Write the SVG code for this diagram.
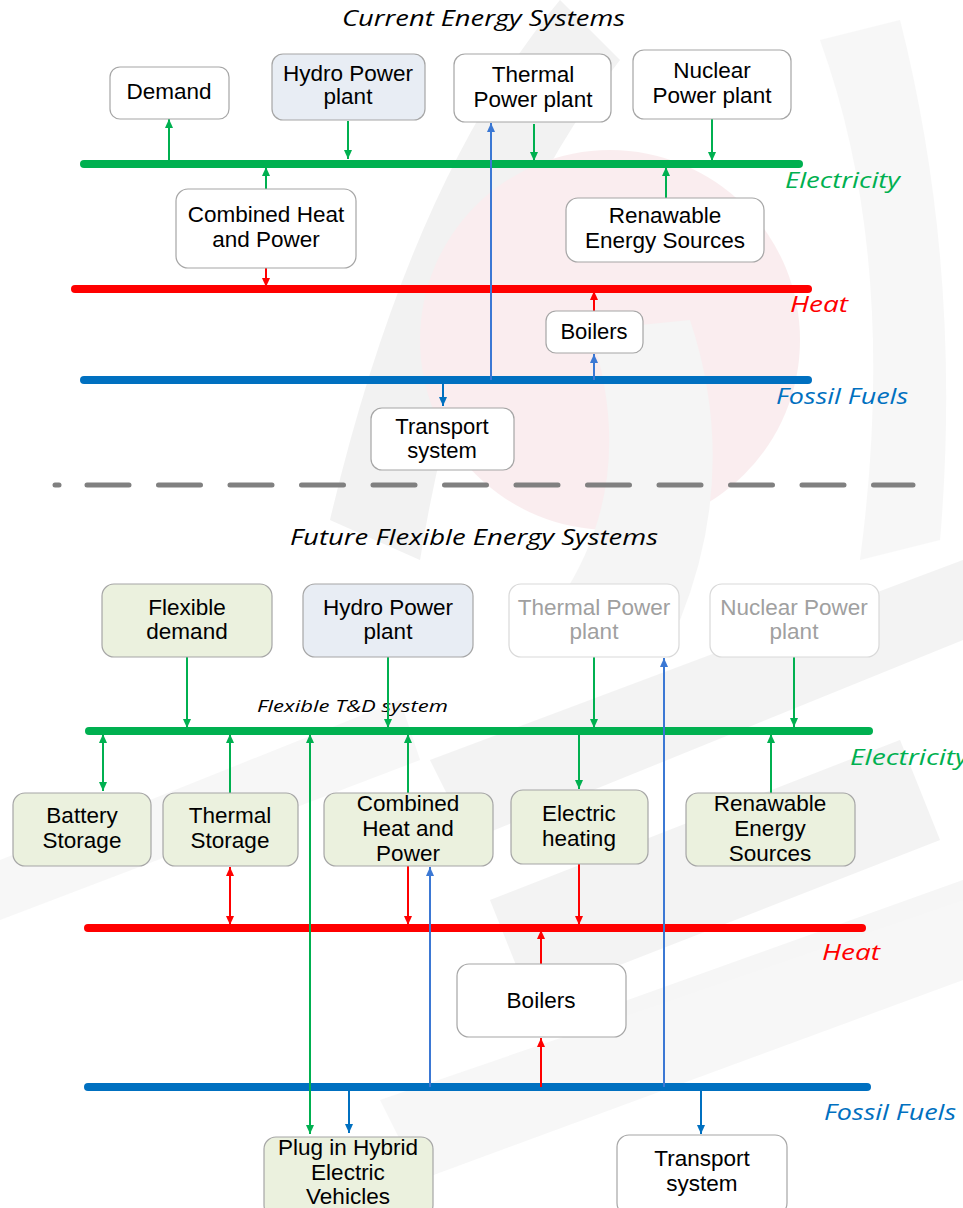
<svg xmlns="http://www.w3.org/2000/svg" width="963" height="1208" viewBox="0 0 963 1208">
<style>
.box{stroke:#a6a6a6;stroke-width:1.2;fill:#ffffff}
.gbox{stroke:#a6a6a6;stroke-width:1.2;fill:#ebf1de}
.hbox{stroke:#a6a6a6;stroke-width:1.2;fill:#e8edf4}
.fbox{stroke:#d9d9d9;stroke-width:1.2;fill:#ffffff}
.t{font-family:"Liberation Sans",Arial,sans-serif;font-size:22px;fill:#000;text-anchor:middle}
.tb{font-family:"Liberation Sans",Arial,sans-serif;font-size:22.5px;fill:#000;text-anchor:middle}
.tf{fill:#a0a0a0}
.it{font-family:"Open Sans","DejaVu Sans",sans-serif;font-style:italic}
.bar{stroke-width:8;stroke-linecap:round;fill:none}
.g{stroke:#00b050;stroke-width:2;fill:none}
.r{stroke:#ff0000;stroke-width:2;fill:none}
.b{stroke:#0070c0;stroke-width:2;fill:none}
.lb{stroke:#3b78d4;stroke-width:2;fill:none}
</style>
<defs>
<marker id="ag" markerUnits="userSpaceOnUse" markerWidth="10" markerHeight="10" refX="9" refY="4" orient="auto-start-reverse"><path d="M0,0 L9,4 L0,8 z" fill="#00b050"/></marker>
<marker id="ar" markerUnits="userSpaceOnUse" markerWidth="10" markerHeight="10" refX="9" refY="4" orient="auto-start-reverse"><path d="M0,0 L9,4 L0,8 z" fill="#ff0000"/></marker>
<marker id="ab" markerUnits="userSpaceOnUse" markerWidth="10" markerHeight="10" refX="9" refY="4" orient="auto-start-reverse"><path d="M0,0 L9,4 L0,8 z" fill="#0070c0"/></marker>
<marker id="alb" markerUnits="userSpaceOnUse" markerWidth="10" markerHeight="10" refX="9" refY="4" orient="auto-start-reverse"><path d="M0,0 L9,4 L0,8 z" fill="#3b78d4"/></marker>
</defs>
<rect width="963" height="1208" fill="#ffffff"/>
<g id="watermark" opacity="0.5">
<path d="M560,0 Q410,180 330,520 L420,560 Q470,250 620,60 Z" fill="#e6e6e6"/>
<circle cx="610" cy="340" r="190" fill="#f6dde0"/>
<path d="M820,40 Q900,260 860,560 L940,540 Q963,270 900,20 Z" fill="#f0f0f0"/>
<path d="M590,330 Q640,480 560,600 L680,620 Q740,470 690,320 Z" fill="#ececec"/>
<path d="M430,760 L963,560 L963,640 L470,840 Z" fill="#e8e8e8"/>
<path d="M490,900 L900,740 L940,840 L530,1000 Z" fill="#e8e8e8"/>
<path d="M600,1010 L963,880 L963,960 L640,1090 Z" fill="#eeeeee"/>
<path d="M0,860 L400,700 L420,760 L0,920 Z" fill="#f0f0f0"/>
<path d="M380,1100 L963,900 L963,980 L420,1180 Z" fill="#f0f0f0"/>
</g>

<text class="it" x="483.5" y="26" font-size="21" text-anchor="middle" fill="#000" textLength="283" lengthAdjust="spacingAndGlyphs">Current Energy Systems</text>
<text class="it" x="474" y="545" font-size="21" text-anchor="middle" fill="#000" textLength="368" lengthAdjust="spacingAndGlyphs">Future Flexible Energy Systems</text>

<g id="buses">
<line class="bar" x1="84" y1="164" x2="799" y2="164" stroke="#00b050"/>
<line class="bar" x1="75" y1="289" x2="808" y2="289" stroke="#ff0000"/>
<line class="bar" x1="84" y1="380" x2="808" y2="380" stroke="#0070c0"/>
<line x1="55" y1="485" x2="59" y2="485" stroke="#808080" stroke-width="5" stroke-linecap="round"/>
<line x1="87" y1="485" x2="913" y2="485" stroke="#808080" stroke-width="5" stroke-linecap="round" stroke-dasharray="42 29.5"/>
<line class="bar" x1="89" y1="731" x2="869" y2="731" stroke="#00b050"/>
<line class="bar" x1="88" y1="928" x2="862" y2="928" stroke="#ff0000"/>
<line class="bar" x1="88" y1="1087" x2="867" y2="1087" stroke="#0070c0"/>
</g>

<g id="bus-labels">
<text class="it" x="785" y="188" font-size="22" fill="#00b050" textLength="115" lengthAdjust="spacingAndGlyphs">Electricity</text>
<text class="it" x="790" y="312" font-size="22" fill="#ff0000" textLength="58" lengthAdjust="spacingAndGlyphs">Heat</text>
<text class="it" x="776" y="404" font-size="22" fill="#0070c0" textLength="132" lengthAdjust="spacingAndGlyphs">Fossil Fuels</text>
<text class="it" x="257" y="712" font-size="17" fill="#000" textLength="191" lengthAdjust="spacingAndGlyphs">Flexible T&amp;D system</text>
<text class="it" x="850" y="765" font-size="22" fill="#00b050" textLength="118" lengthAdjust="spacingAndGlyphs">Electricity</text>
<text class="it" x="822" y="960" font-size="22" fill="#ff0000" textLength="58" lengthAdjust="spacingAndGlyphs">Heat</text>
<text class="it" x="824" y="1120" font-size="22" fill="#0070c0" textLength="132" lengthAdjust="spacingAndGlyphs">Fossil Fuels</text>
</g>

<g id="connectors">
<line class="g" x1="169" y1="161" x2="169" y2="119" marker-end="url(#ag)"/>
<line class="g" x1="348" y1="121" x2="348" y2="159" marker-end="url(#ag)"/>
<line class="g" x1="534" y1="124" x2="534" y2="161" marker-end="url(#ag)"/>
<line class="g" x1="712" y1="119" x2="712" y2="161" marker-end="url(#ag)"/>
<line class="g" x1="266" y1="189" x2="266" y2="167" marker-end="url(#ag)"/>
<line class="g" x1="666" y1="198" x2="666" y2="167" marker-end="url(#ag)"/>
<line class="r" x1="266" y1="268" x2="266" y2="287" marker-end="url(#ar)"/>
<line class="r" x1="594" y1="311" x2="594" y2="291" marker-end="url(#ar)"/>
<line class="lb" x1="594" y1="380" x2="594" y2="354" marker-end="url(#alb)"/>
<line class="lb" x1="491" y1="380" x2="491" y2="123" marker-end="url(#alb)"/>
<line class="b" x1="443" y1="380" x2="443" y2="406" marker-end="url(#ab)"/>

<line class="g" x1="187" y1="657" x2="187" y2="728" marker-end="url(#ag)"/>
<line class="g" x1="388" y1="657" x2="388" y2="728" marker-end="url(#ag)"/>
<line class="g" x1="594" y1="657" x2="594" y2="728" marker-end="url(#ag)"/>
<line class="g" x1="794" y1="657" x2="794" y2="727" marker-end="url(#ag)"/>
<line class="g" x1="103" y1="734" x2="103" y2="791" marker-start="url(#ag)" marker-end="url(#ag)"/>
<line class="g" x1="230" y1="793" x2="230" y2="734" marker-end="url(#ag)"/>
<line class="g" x1="310" y1="734" x2="310" y2="1134" marker-start="url(#ag)" marker-end="url(#ag)"/>
<line class="g" x1="408" y1="793" x2="408" y2="734" marker-end="url(#ag)"/>
<line class="g" x1="579" y1="734" x2="579" y2="789" marker-end="url(#ag)"/>
<line class="g" x1="771" y1="793" x2="771" y2="734" marker-end="url(#ag)"/>
<line class="r" x1="230" y1="867" x2="230" y2="925" marker-start="url(#ar)" marker-end="url(#ar)"/>
<line class="r" x1="408" y1="866" x2="408" y2="925" marker-end="url(#ar)"/>
<line class="r" x1="579" y1="864" x2="579" y2="925" marker-end="url(#ar)"/>
<line class="r" x1="541" y1="964" x2="541" y2="930" marker-end="url(#ar)"/>
<line class="r" x1="541" y1="1087" x2="541" y2="1038" marker-end="url(#ar)"/>
<line class="lb" x1="430" y1="1087" x2="430" y2="867" marker-end="url(#alb)"/>
<line class="lb" x1="664" y1="1087" x2="664" y2="658" marker-end="url(#alb)"/>
<line class="b" x1="349" y1="1087" x2="349" y2="1133" marker-end="url(#ab)"/>
<line class="b" x1="701" y1="1087" x2="701" y2="1134" marker-end="url(#ab)"/>
</g>

<g id="demand"><rect class="box" x="110" y="67" width="119" height="52" rx="10"/><text class="tb" x="169" y="99">Demand</text></g>
<g id="hydro1"><rect class="hbox" x="272" y="54" width="153" height="66" rx="11"/><text class="tb" x="348" y="81">Hydro Power</text><text class="tb" x="348" y="104">plant</text></g>
<g id="thermal1"><rect class="box" x="454" y="54" width="157" height="68" rx="11"/><text class="tb" x="533" y="82">Thermal</text><text class="tb" x="533" y="107">Power plant</text></g>
<g id="nuclear1"><rect class="box" x="633" y="50" width="158" height="69" rx="11"/><text class="tb" x="712" y="78">Nuclear</text><text class="tb" x="712" y="103">Power plant</text></g>
<g id="chp1"><rect class="box" x="176" y="189" width="180" height="79" rx="12"/><text class="tb" x="266" y="222">Combined Heat</text><text class="tb" x="266" y="247">and Power</text></g>
<g id="renew1"><rect class="box" x="566" y="198" width="198" height="64" rx="12"/><text class="tb" x="665" y="223">Renawable</text><text class="tb" x="665" y="248">Energy Sources</text></g>
<g id="boilers1"><rect class="box" x="546" y="311" width="97" height="42" rx="10"/><text class="t" x="594" y="339">Boilers</text></g>
<g id="transport1"><rect class="box" x="371" y="408" width="143" height="62" rx="11"/><text class="t" x="442" y="434">Transport</text><text class="t" x="442" y="458">system</text></g>

<g id="flexdemand"><rect class="gbox" x="102" y="584" width="170" height="73" rx="12"/><text class="tb" x="187" y="615">Flexible</text><text class="tb" x="187" y="639">demand</text></g>
<g id="hydro2"><rect class="hbox" x="303" y="584" width="170" height="73" rx="12"/><text class="tb" x="388" y="615">Hydro Power</text><text class="tb" x="388" y="639">plant</text></g>
<g id="thermal2"><rect class="fbox" x="509" y="584" width="170" height="73" rx="12"/><text class="tb tf" x="594" y="615">Thermal Power</text><text class="tb tf" x="594" y="639">plant</text></g>
<g id="nuclear2"><rect class="fbox" x="710" y="584" width="169" height="73" rx="12"/><text class="tb tf" x="794" y="615">Nuclear Power</text><text class="tb tf" x="794" y="639">plant</text></g>
<g id="battery"><rect class="gbox" x="13" y="793" width="138" height="73" rx="12"/><text class="tb" x="82" y="823">Battery</text><text class="tb" x="82" y="848">Storage</text></g>
<g id="thermalstorage"><rect class="gbox" x="163" y="793" width="135" height="73" rx="12"/><text class="tb" x="230" y="823">Thermal</text><text class="tb" x="230" y="848">Storage</text></g>
<g id="chp2"><rect class="gbox" x="324" y="793" width="169" height="73" rx="12"/><text class="tb" x="408" y="811">Combined</text><text class="tb" x="408" y="836">Heat and</text><text class="tb" x="408" y="861">Power</text></g>
<g id="elheating"><rect class="gbox" x="511" y="790" width="137" height="74" rx="12"/><text class="tb" x="579" y="821">Electric</text><text class="tb" x="579" y="846">heating</text></g>
<g id="renew2"><rect class="gbox" x="686" y="793" width="169" height="73" rx="12"/><text class="tb" x="770" y="811">Renawable</text><text class="tb" x="770" y="836">Energy</text><text class="tb" x="770" y="861">Sources</text></g>
<g id="boilers2"><rect class="box" x="457" y="964" width="169" height="73" rx="12"/><text class="tb" x="541" y="1008">Boilers</text></g>
<g id="phev"><rect class="gbox" x="264" y="1137" width="169" height="80" rx="12"/><text class="tb" x="348" y="1155">Plug in Hybrid</text><text class="tb" x="348" y="1180">Electric</text><text class="tb" x="348" y="1204">Vehicles</text></g>
<g id="transport2"><rect class="box" x="617" y="1135" width="170" height="80" rx="12"/><text class="tb" x="702" y="1166">Transport</text><text class="tb" x="702" y="1191">system</text></g>
</svg>
